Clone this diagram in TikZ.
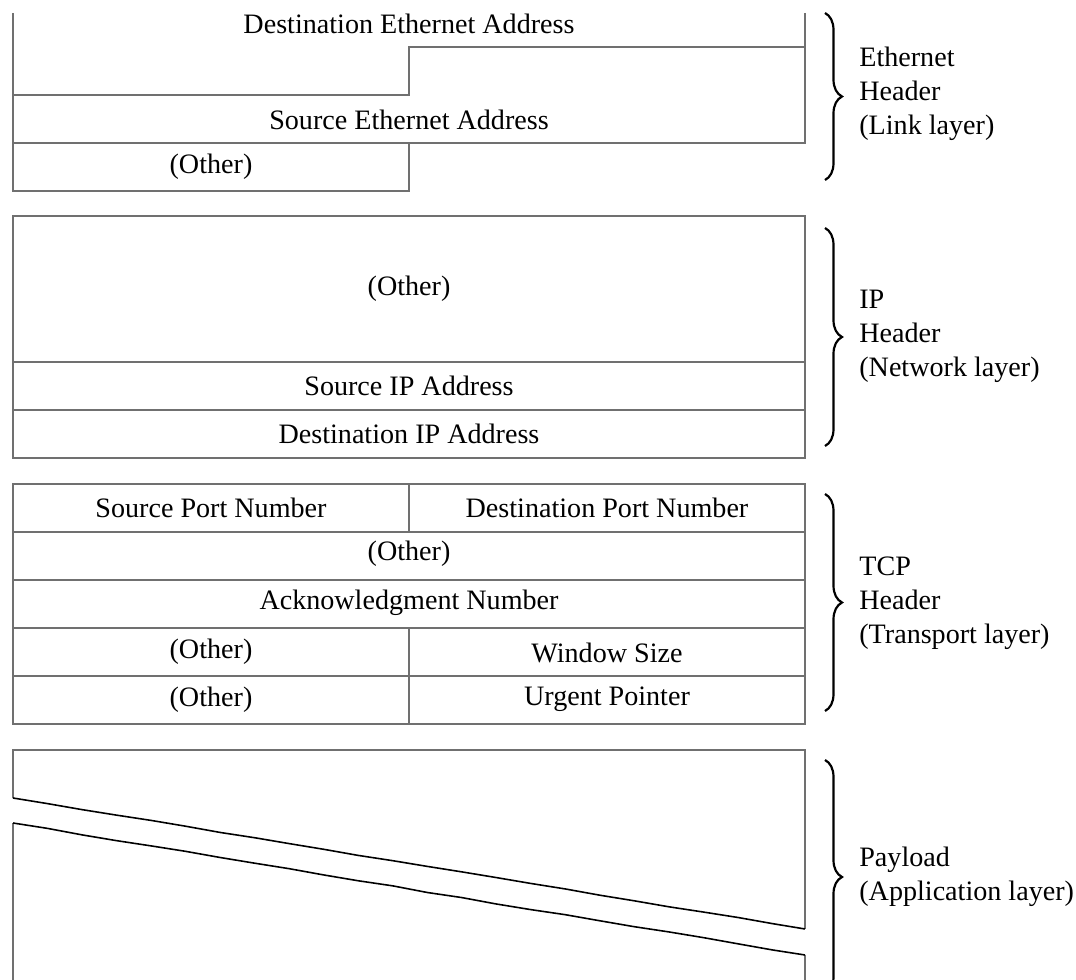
\documentclass[tikz,border=0pt]{standalone}
\usepackage{fontspec}
\setmainfont{Liberation Serif}
\usetikzlibrary{decorations.pathreplacing,decorations.pathmorphing}
\definecolor{boxgray}{RGB}{112,112,112}

\begin{document}
\begin{tikzpicture}[x=0.02cm, y=-0.02cm, font=\fontsize{16}{19.4}\selectfont,
        field/.style = {draw=boxgray, line width=0.7pt},
        cut/.style = {draw=black, line width=0.9pt, decorate, decoration={random steps, segment length=7mm, amplitude=0.25pt}},
        layer/.style = {draw=black, line width=1.25pt, decorate, decoration={brace, amplitude=0.34cm}},
        txt/.style = {inner sep=0pt},
        lbl/.style = {inner sep=0pt, anchor=west, align=left}]
    \useasboundingbox (0,0) rectangle (1076,980);
    \pgfmathsetseed{7}
    % ethernet header
    \draw[field] (13,13) -- (13,191) -- (409,191) -- (409,143);
    \draw[field] (805,13) -- (805,143) -- (13,143);
    \draw[field] (805,47) -- (409,47) -- (409,95) -- (13,95);
    \node[txt] (dstEth) at (409,24) {Destination Ethernet Address};
    \node[txt] (srcEth) at (409,120) {Source Ethernet Address};
    \node[txt] (ethOther) at (211,167) {(Other)};
    % ip header
    \draw[field] (13,216) rectangle (805,458);
    \draw[field] (13,362) -- (805,362);
    \draw[field] (13,410) -- (805,410);
    \node[txt] (ipOther) at (409,289) {(Other)};
    \node[txt] (srcIP) at (409,386) {Source IP Address};
    \node[txt] (dstIP) at (409,434) {Destination IP Address};
    % tcp header
    \draw[field] (13,484) rectangle (805,724);
    \foreach \y in {532,580,628,676}
        \draw[field] (13,\y) -- (805,\y);
    \draw[field] (409,484) -- (409,532);
    \draw[field] (409,628) -- (409,724);
    \node[txt] (srcPort) at (211,508) {Source Port Number};
    \node[txt] (dstPort) at (607,508) {Destination Port Number};
    \node[txt] (tcpOther) at (409,554) {(Other)};
    \node[txt] (ack) at (409,603) {Acknowledgment Number};
    \node[txt] (winOther) at (211,652) {(Other)};
    \node[txt] (window) at (607,653) {Window Size};
    \node[txt] (urgOther) at (211,700) {(Other)};
    \node[txt] (urgent) at (607,699) {Urgent Pointer};
    % payload
    \draw[field] (13,798) -- (13,750) -- (805,750) -- (805,929);
    \draw[field] (13,823) -- (13,995);
    \draw[field] (805,955) -- (805,995);
    \draw[cut] (13,798) -- (805,929);
    \draw[cut] (13,823) -- (805,955);
    % layer braces
    \draw[layer] (825,13) -- (825,180);
    \draw[layer] (825,228) -- (825,446);
    \draw[layer] (825,494) -- (825,711);
    \draw[layer] (825,760) -- (825,994);
    \node[lbl] (ethLbl) at (859,94) {Ethernet\\Header\\(Link layer)};
    \node[lbl] (ipLbl) at (859,336) {IP\\Header\\(Network layer)};
    \node[lbl] (tcpLbl) at (859,603) {TCP\\Header\\(Transport layer)};
    \node[lbl] (payLbl) at (859,877) {Payload\\(Application layer)};
\end{tikzpicture}
\end{document}
